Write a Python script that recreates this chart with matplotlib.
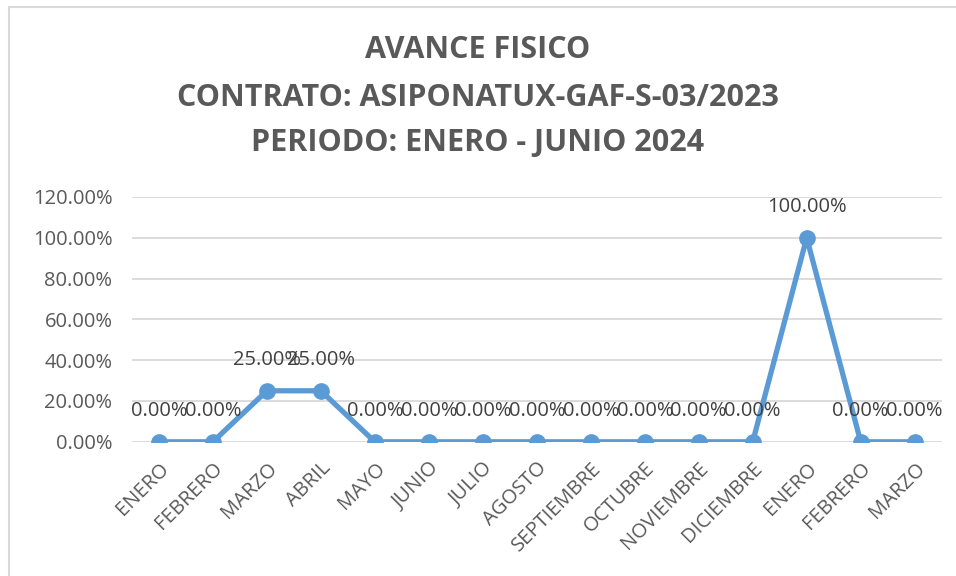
import matplotlib.pyplot as plt
from matplotlib.patches import Rectangle

meses = ['ENERO', 'FEBRERO', 'MARZO', 'ABRIL', 'MAYO', 'JUNIO', 'JULIO', 'AGOSTO',
         'SEPTIEMBRE', 'OCTUBRE', 'NOVIEMBRE', 'DICIEMBRE', 'ENERO', 'FEBRERO', 'MARZO']
avance = [0.0, 0.0, 0.25, 0.25, 0.0, 0.0, 0.0, 0.0, 0.0, 0.0, 0.0, 0.0, 1.0, 0.0, 0.0]
yticks = [0, 0.2, 0.4, 0.6, 0.8, 1.0, 1.2]

plt.rcParams['font.family'] = ['Open Sans', 'DejaVu Sans']
gris = '#595959'
azul = '#5B9BD5'

fig = plt.figure(figsize=(9.56, 5.76), dpi=100)
ax = fig.add_axes([0.138, 0.233, 0.847, 0.425])

x = list(range(len(meses)))
ax.plot(x, avance, color=azul, linewidth=3.8, marker='o', markersize=11, zorder=3,
        solid_capstyle='round')

# etiquetas de datos (se enciman igual que en el original)
for xi, v in zip(x, avance):
    ax.annotate(f'{v*100:.2f}%', (xi, v), xytext=(0, 15), textcoords='offset points',
                ha='center', va='bottom', fontsize=14.5, color='#404040')

ax.set_xlim(-0.5, len(meses) - 0.5)
ax.set_ylim(0, 1.2)
ax.set_yticks(yticks)
ax.set_yticklabels([f'{t*100:.2f}%' for t in yticks], fontsize=14.5, color=gris)
ax.set_xticks(x)
ax.set_xticklabels(meses, rotation=45, ha='right', rotation_mode='anchor',
                   fontsize=14.5, color=gris)
ax.tick_params(axis='y', length=0, pad=14)
ax.tick_params(axis='x', length=0, pad=12)
ax.grid(axis='y', color='#D9D9D9', linewidth=1.3)
ax.set_axisbelow(True)
for s in ax.spines.values():
    s.set_visible(False)

fig.text(0.5, 0.913, 'AVANCE FISICO', ha='center', va='center',
         fontsize=22, fontweight='bold', color=gris)
fig.text(0.5, 0.83, 'CONTRATO: ASIPONATUX-GAF-S-03/2023', ha='center', va='center',
         fontsize=22, fontweight='bold', color=gris)
fig.text(0.5, 0.751, 'PERIODO: ENERO - JUNIO 2024', ha='center', va='center',
         fontsize=22, fontweight='bold', color=gris)

# borde del grafico
fig.patches.append(Rectangle((0.009, -0.1), 1.2, 1.088, transform=fig.transFigure,
                             fill=False, edgecolor='#D9D9D9', linewidth=1.5))

fig.savefig('out.png', dpi=100)
